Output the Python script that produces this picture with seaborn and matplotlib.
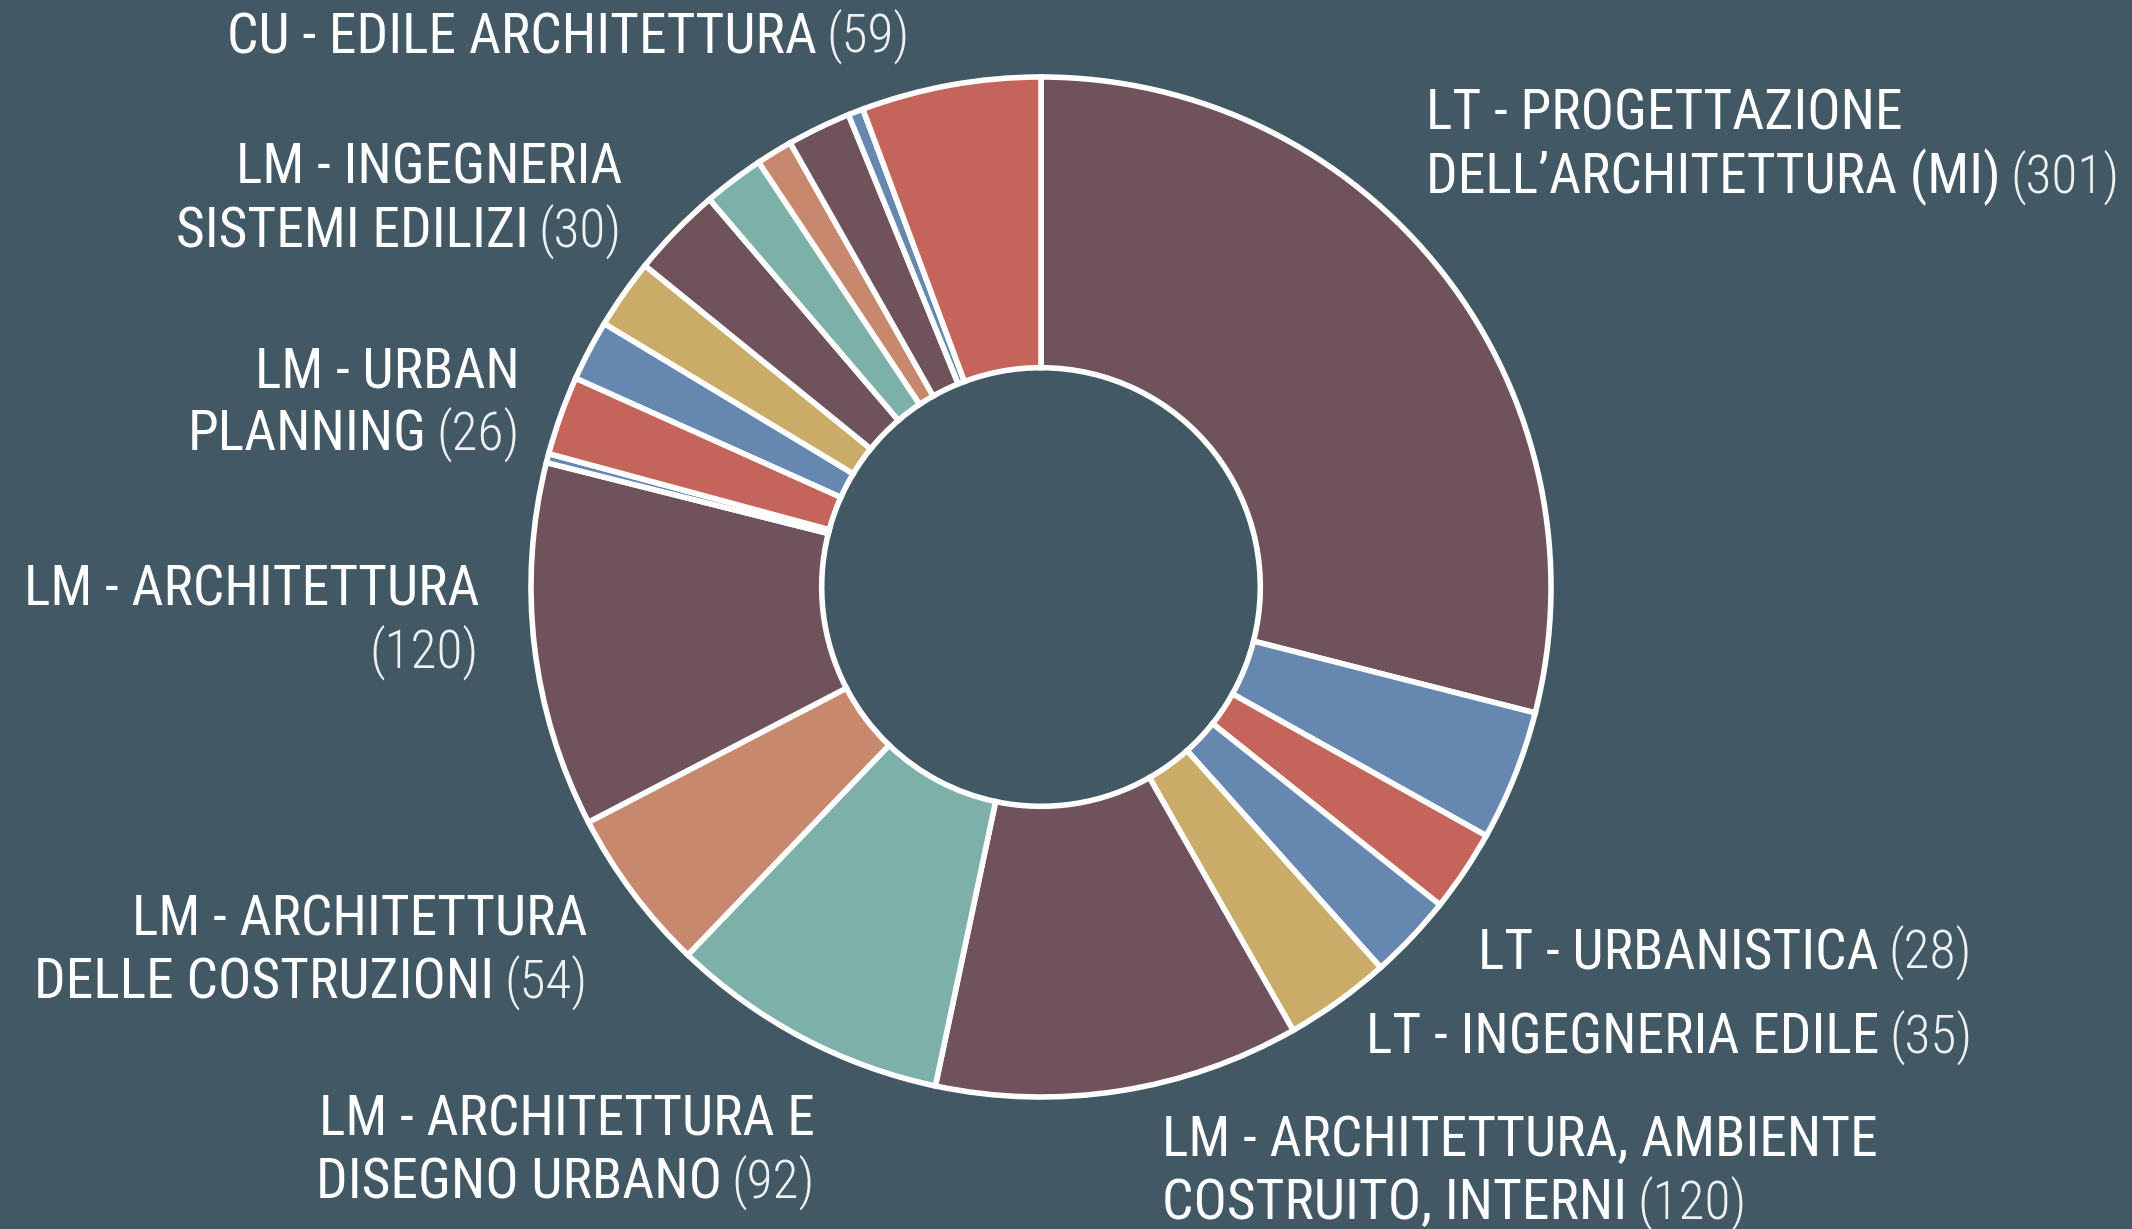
import os
import matplotlib
matplotlib.use("Agg")
import matplotlib.pyplot as plt
from matplotlib import font_manager as fm
import seaborn as sns

# slices, clockwise from 12 o'clock
counts = [301, 43, 27, 28, 35, 120, 92, 54, 120, 3, 26, 20, 23, 30, 20, 12, 21, 5, 59]

# colour cycle of the source chart (8 slots, repeated)
palette = sns.color_palette(["#70525c", "#6688b0", "#c5645a", "#6688b0",
                             "#caab68", "#70525c", "#7cb0a8", "#c8886e"])

# labelled slices: index into counts + text lines
label_slice = [0, 3, 4, 5, 6, 7, 8, 10, 13, 18]
label_lines = [
    ["LT - PROGETTAZIONE", "DELL’ARCHITETTURA (MI)"],
    ["LT - URBANISTICA"],
    ["LT - INGEGNERIA EDILE"],
    ["LM - ARCHITETTURA, AMBIENTE", "COSTRUITO, INTERNI"],
    ["LM - ARCHITETTURA E", "DISEGNO URBANO"],
    ["LM - ARCHITETTURA", "DELLE COSTRUZIONI"],
    ["LM - ARCHITETTURA", ""],
    ["LM - URBAN", "PLANNING"],
    ["LM - INGEGNERIA", "SISTEMI EDILIZI"],
    ["CU - EDILE ARCHITETTURA"],
]

# layout (pixels from top-left): anchor x, first baseline, alignment
label_pos = [(1426, 130, "left"), (1478, 969, "left"), (1366, 1054, "left"),
             (1162, 1156, "left"), (815, 1135, "right"), (587, 935, "right"),
             (479, 605, "right"), (520, 387, "right"), (622, 184, "right"),
             (910, 53, "right")]

W, H = 2132, 1229
cx, cy, R = 1041, 587, 510
bg = "#425865"


def find_font(cands):
    files = [f.fname for f in fm.fontManager.ttflist]
    for key in cands:
        for fn in files:
            if os.path.basename(fn).lower().startswith(key):
                return fn
    return None


# narrow font like the original (Futura-ish condensed)
main_file = find_font(["liberationsansnarrow-regular", "robotocondensed-regular",
                       "notosans-condensed.", "dejavusanscondensed.",
                       "notosans-semicondensed.", "roboto-regular",
                       "liberationsans-regular"])
light_file = find_font(["robotocondensed-light", "notosans-condensedlight",
                        "opensans-condlight", "liberationsansnarrow-regular",
                        "notosans-semicondensedlight", "roboto-light"]) or main_file

sns.set_theme(style="dark")
plt.rcParams["font.family"] = ["DejaVu Sans"]

fig = plt.figure(figsize=(W / 100, H / 100), dpi=100, facecolor=bg)
ax = fig.add_axes([0, 0, 1, 1])
ax.set_facecolor("none")

cols = [palette[i % len(palette)] for i in range(len(counts))]
ax.pie(counts, colors=cols, startangle=90, counterclock=False, radius=1,
       wedgeprops=dict(width=0.57, edgecolor="white", linewidth=4))
ax.set_aspect("auto")
ax.set_xlim(-cx / R, (W - cx) / R)
ax.set_ylim(-(H - cy) / R, cy / R)
ax.axis("off")

renderer = fig.canvas.get_renderer()

# pick size so a sample line is about as wide as in the original
fp_main = fm.FontProperties(fname=main_file) if main_file else fm.FontProperties(family="DejaVu Sans")
fp_light = fm.FontProperties(fname=light_file) if light_file else fp_main
probe = fig.text(0, 0, "LT - INGEGNERIA EDILE", fontproperties=fp_main, fontsize=38)
wpx = probe.get_window_extent(renderer).width
probe.remove()
fs = min(40, 38 * 536 / wpx)
fs_num = fs * 0.96
gap = 63.5
fp_main.set_size(fs)
fp_light.set_size(fs_num)


def px(x, y):
    return x / W, 1 - y / H


for idx, lines, (x, y0, side) in zip(label_slice, label_lines, label_pos):
    num = "(" + str(counts[idx]) + ")"
    for k, line in enumerate(lines):
        y = y0 + k * gap
        last = k == len(lines) - 1
        if side == "left":
            t = fig.text(*px(x, y), line, ha="left", va="baseline",
                         color="white", fontproperties=fp_main)
            if last:
                bb = t.get_window_extent(renderer)
                fig.text(*px(bb.x1 + 10, y), num, ha="left", va="baseline",
                         color="#eef1f2", fontproperties=fp_light)
        else:
            if last:
                c = fig.text(*px(x, y), num, ha="right", va="baseline",
                             color="#eef1f2", fontproperties=fp_light)
                if line:
                    bb = c.get_window_extent(renderer)
                    fig.text(*px(bb.x0 - 10, y), line, ha="right", va="baseline",
                             color="white", fontproperties=fp_main)
            else:
                fig.text(*px(x, y), line, ha="right", va="baseline",
                         color="white", fontproperties=fp_main)

fig.savefig("out.png", dpi=100, facecolor=bg)
